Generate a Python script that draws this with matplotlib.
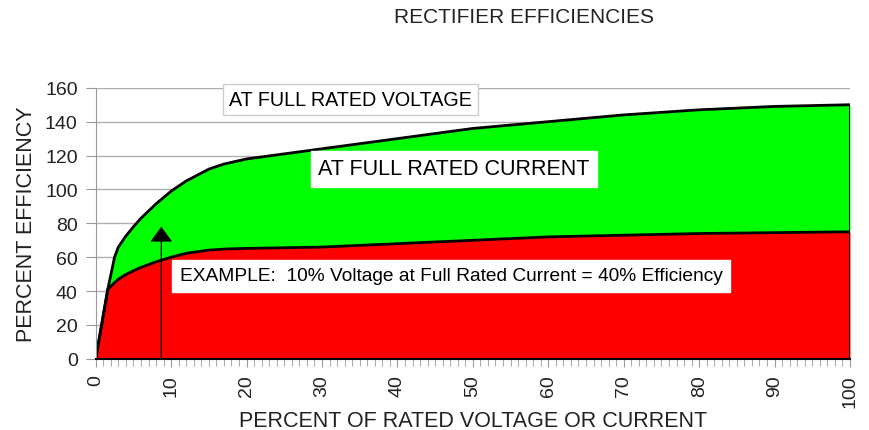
import matplotlib.pyplot as plt
from matplotlib.ticker import MultipleLocator

plt.rcParams['font.family'] = ['Liberation Sans', 'DejaVu Sans']

# percent of rated voltage or current
pct = [0, 1.6, 2.5, 3, 4, 5, 6, 8, 10, 12, 15, 17, 20, 25, 30, 40, 50, 60, 70, 80, 90, 100]
# efficiency at full rated voltage (top of green band)
eff_voltage = [0, 41, 60, 66, 72.5, 78, 83, 91.5, 99, 105, 112, 115, 118, 121, 124, 130,
               136, 140, 144, 147, 149, 150]
# efficiency at full rated current (top of red band)
eff_current = [0, 41, 45, 47, 49.8, 52, 54, 57.3, 60, 62.3, 64.2, 64.8, 65.2, 65.6, 66, 68,
               70, 72, 73, 74, 74.5, 75]

example_x = 8.7
example_y = 78

fig = plt.figure(figsize=(8.7, 4.31), dpi=100)
ax = fig.add_axes([0.110, 0.165, 0.867, 0.629])

ax.fill_between(pct, eff_current, eff_voltage, color='#00ff00', lw=0)
ax.fill_between(pct, 0, eff_current, color='#ff0000', lw=0)
ax.plot(pct, eff_voltage, color='black', lw=2, solid_joinstyle='round')
ax.plot(pct, eff_current, color='black', lw=2, solid_joinstyle='round')
ax.plot([pct[-1], pct[-1]], [0, eff_voltage[-1]], color='black', lw=2)

# example arrow
ax.annotate('', xy=(example_x, example_y), xytext=(example_x, 0),
            arrowprops=dict(arrowstyle='-|>,head_width=0.7,head_length=0.95',
                            color='black', lw=0.9, shrinkA=0, shrinkB=0))

ax.text(33.8, 152.9, 'AT FULL RATED VOLTAGE', ha='center', va='center',
        fontsize=14.2, zorder=5, clip_on=False,
        bbox=dict(boxstyle='square,pad=0.3', facecolor='white', edgecolor='#cccccc', lw=1))
ax.text(47.5, 112.2, 'AT FULL RATED CURRENT', ha='center', va='center',
        fontsize=15.5, zorder=5,
        bbox=dict(boxstyle='square,pad=0.35', facecolor='white', edgecolor='white'))
ax.text(47.1, 49, 'EXAMPLE:  10% Voltage at Full Rated Current = 40% Efficiency',
        ha='center', va='center', fontsize=13.8, zorder=5,
        bbox=dict(boxstyle='square,pad=0.4', facecolor='white', edgecolor='white'))

ax.set_xlim(0, 100)
ax.set_ylim(0, 160)
ax.yaxis.set_major_locator(MultipleLocator(20))
ax.xaxis.set_major_locator(MultipleLocator(10))
ax.xaxis.set_minor_locator(MultipleLocator(1))
ax.grid(axis='y', color='#b0b0b0', lw=1)
ax.set_axisbelow(True)

for side in ['top', 'right']:
    ax.spines[side].set_visible(False)
ax.spines['left'].set_color('#999999')
ax.spines['bottom'].set_color('black')
ax.spines['bottom'].set_linewidth(1.5)
ax.spines['bottom'].set_zorder(6)

ax.tick_params(axis='y', colors='#999999', labelcolor='#222222', labelsize=14,
               length=7, pad=6, direction='out')
ax.tick_params(axis='x', which='major', colors='#999999', labelcolor='#222222',
               labelsize=14, length=6, pad=5, labelrotation=90)
ax.tick_params(axis='x', which='minor', colors='#999999', length=5)

ax.set_ylabel('PERCENT EFFICIENCY', fontsize=15.5, color='#222222', labelpad=6)
ax.set_xlabel('PERCENT OF RATED VOLTAGE OR CURRENT', fontsize=15.5, color='#222222',
              labelpad=2)
fig.text(0.602, 0.96, 'RECTIFIER EFFICIENCIES', ha='center', va='center',
         fontsize=15, color='#222222')

fig.savefig('out.png', dpi=100)
